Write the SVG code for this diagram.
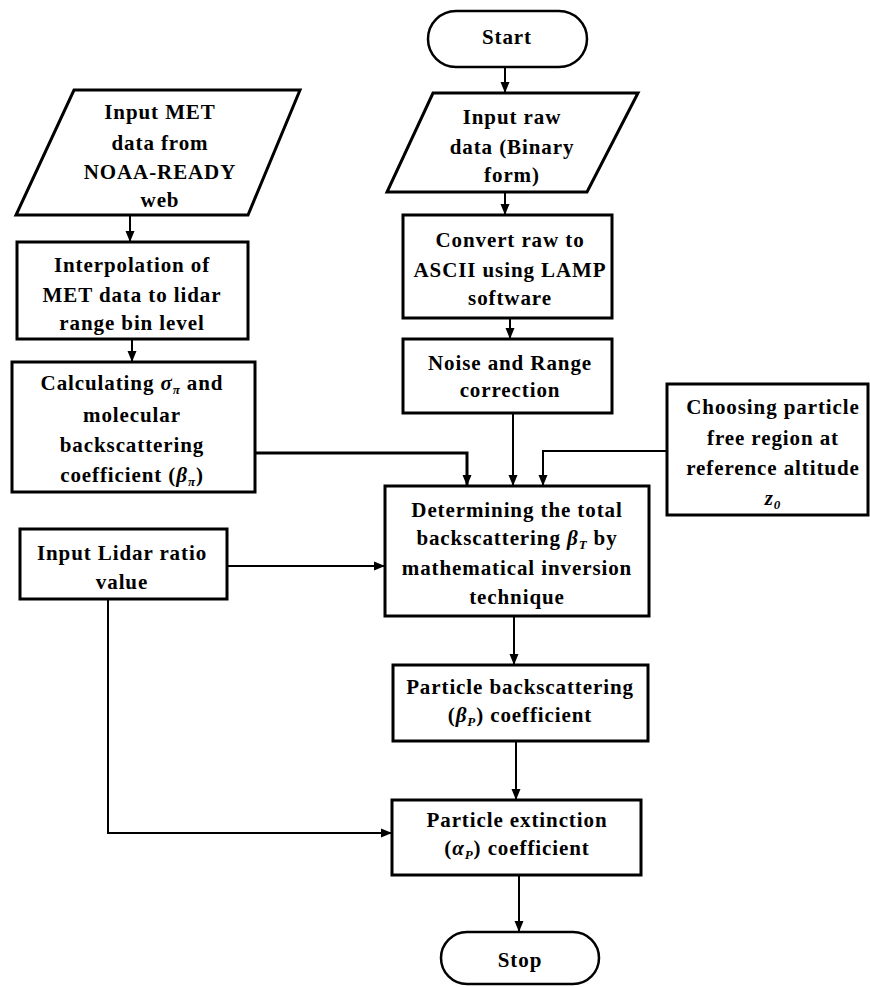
<svg xmlns="http://www.w3.org/2000/svg" width="870" height="987" viewBox="0 0 870 987">
<defs>
<marker id="arr" markerUnits="userSpaceOnUse" markerWidth="12" markerHeight="12" viewBox="0 0 12 12" refX="11" refY="6" orient="auto">
<path d="M0,1.5 L11,6 L0,10.5 Z" fill="#000"/>
</marker>
<style>
.box{fill:#fff;stroke:#000;stroke-width:3}
.term{fill:#fff;stroke:#000;stroke-width:2.5}
.t{font-family:"Liberation Serif","Times New Roman",serif;font-weight:bold;font-size:21px;letter-spacing:0.9px;fill:#000;text-anchor:middle}
.m{font-style:italic}
.s{font-size:13px;font-style:italic}
.c{fill:none;stroke:#000;stroke-width:2;marker-end:url(#arr)}
.c3{fill:none;stroke:#000;stroke-width:3;marker-end:url(#arr)}
</style>
</defs>
<rect width="870" height="987" fill="#fff"/>

<g id="connectors">
<path class="c" d="M505,67 V93"/>
<path class="c" d="M505,192 V215"/>
<path class="c" d="M510,318 V339"/>
<path class="c" d="M513,413 V486"/>
<path class="c" d="M130,215 V242"/>
<path class="c" d="M132,339 V362"/>
<path class="c3" d="M255,453 H467 V486"/>
<path class="c" d="M667,451 H543 V486"/>
<path class="c" d="M227,566 H385"/>
<path class="c" d="M514,616 V665"/>
<path class="c" d="M516,741 V800"/>
<path class="c" d="M108,599 V833 H392"/>
<path class="c" d="M519,875 V932"/>
</g>

<g id="start">
<rect class="term" x="428" y="11" width="159" height="56" rx="28"/>
<text class="t" x="507" y="44">Start</text>
</g>

<g id="input-raw">
<polygon class="box" points="433,93 638,93 587,192 387,192"/>
<text class="t" x="512" y="124">Input raw</text>
<text class="t" x="512" y="154">data (Binary</text>
<text class="t" x="512" y="182">form)</text>
</g>

<g id="input-met">
<polygon class="box" points="74,90 300,90 248,215 16,215"/>
<text class="t" x="160" y="119">Input MET</text>
<text class="t" x="160" y="150">data from</text>
<text class="t" x="160" y="179">NOAA-READY</text>
<text class="t" x="160" y="207">web</text>
</g>

<g id="interpolation">
<rect class="box" x="17" y="242" width="231" height="97"/>
<text class="t" x="132" y="272">Interpolation of</text>
<text class="t" x="132" y="302">MET data to lidar</text>
<text class="t" x="132" y="330">range bin level</text>
</g>

<g id="calculating">
<rect class="box" x="12" y="362" width="243" height="130"/>
<text class="t" x="132" y="390">Calculating  <tspan class="m">σ</tspan><tspan class="s" dy="4">π</tspan><tspan dy="-4"> and</tspan></text>
<text class="t" x="132" y="422">molecular</text>
<text class="t" x="132" y="452">backscattering</text>
<text class="t" x="132" y="482">coefficient (<tspan class="m">β</tspan><tspan class="s" dy="4">π</tspan><tspan dy="-4">)</tspan></text>
</g>

<g id="convert">
<rect class="box" x="403" y="215" width="209" height="103"/>
<text class="t" x="510" y="247">Convert raw to</text>
<text class="t" x="510" y="277">ASCII using LAMP</text>
<text class="t" x="510" y="305">software</text>
</g>

<g id="noise">
<rect class="box" x="403" y="339" width="209" height="74"/>
<text class="t" x="510" y="370">Noise and Range</text>
<text class="t" x="510" y="397">correction</text>
</g>

<g id="choosing">
<rect class="box" x="667" y="384" width="201" height="131"/>
<text class="t" x="773" y="414">Choosing particle</text>
<text class="t" x="773" y="445">free region at</text>
<text class="t" x="773" y="475">reference altitude</text>
<text class="t" x="773" y="505"><tspan class="m">z</tspan><tspan class="s" dy="4" font-style="normal">0</tspan></text>
</g>

<g id="determining">
<rect class="box" x="385" y="486" width="264" height="130"/>
<text class="t" x="517" y="517">Determining the total</text>
<text class="t" x="517" y="545">backscattering <tspan class="m">β</tspan><tspan class="s" dy="4">T</tspan><tspan dy="-4"> by</tspan></text>
<text class="t" x="517" y="575">mathematical inversion</text>
<text class="t" x="517" y="604">technique</text>
</g>

<g id="input-lidar">
<rect class="box" x="20" y="529" width="207" height="70"/>
<text class="t" x="122" y="560">Input Lidar ratio</text>
<text class="t" x="122" y="589">value</text>
</g>

<g id="particle-backscattering">
<rect class="box" x="393" y="665" width="255" height="76"/>
<text class="t" x="520" y="694">Particle backscattering</text>
<text class="t" x="520" y="722">(<tspan class="m">β</tspan><tspan class="s" dy="4">P</tspan><tspan dy="-4">) coefficient</tspan></text>
</g>

<g id="particle-extinction">
<rect class="box" x="392" y="800" width="249" height="75"/>
<text class="t" x="517" y="827">Particle extinction</text>
<text class="t" x="517" y="855">(<tspan class="m">α</tspan><tspan class="s" dy="4">P</tspan><tspan dy="-4">) coefficient</tspan></text>
</g>

<g id="stop">
<rect class="term" x="441" y="932" width="158" height="52" rx="26"/>
<text class="t" x="520" y="967">Stop</text>
</g>
</svg>
